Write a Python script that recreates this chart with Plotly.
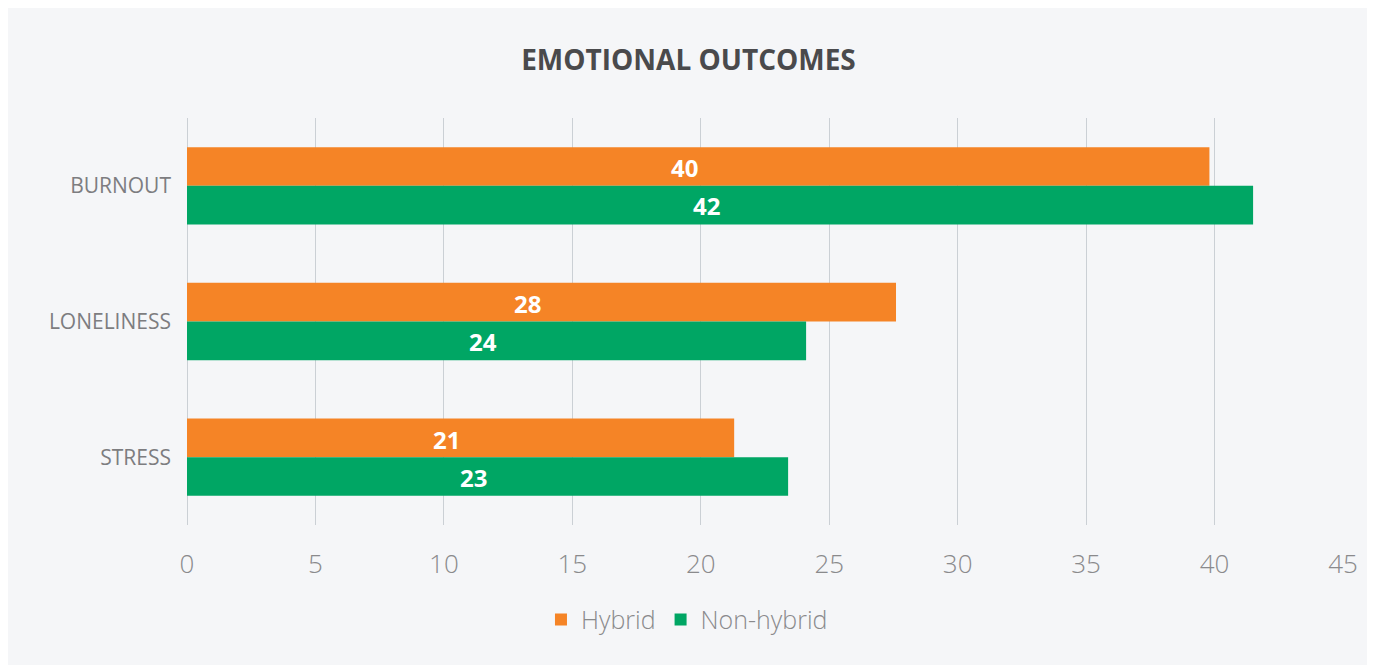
import plotly.graph_objects as go

categories = ["BURNOUT", "LONELINESS", "STRESS"]
hybrid = [39.8, 27.6, 21.3]
non_hybrid = [41.5, 24.1, 23.4]
x_ticks = [0, 5, 10, 15, 20, 25, 30, 35, 40, 45]

ORANGE = "#F58426"
GREEN = "#00A664"
BG = "#F5F6F8"
FONT = "'Open Sans', Lato, sans-serif"

fig = go.Figure()
for name, vals, col in [("Hybrid", hybrid, ORANGE), ("Non-hybrid", non_hybrid, GREEN)]:
    fig.add_trace(go.Bar(
        y=categories, x=vals, name=name, orientation="h",
        marker=dict(color=col, line=dict(width=0)),
    ))

# value labels, slightly left of bar centre as in the reference
for ti, vals in enumerate([hybrid, non_hybrid]):
    for ci, (cat, v) in enumerate(zip(categories, vals)):
        fig.add_annotation(
            x=v / 2, y=ci + (-0.14 if ti == 0 else 0.14), xref="x", yref="y",
            text=f"<b>{v:.0f}</b>", showarrow=False, xshift=-14, yshift=-1,
            font=dict(family=FONT, size=24, color="white"),
        )

fig.update_layout(
    width=1361, height=657,
    margin=dict(l=179, r=26, t=110, b=140),
    paper_bgcolor=BG, plot_bgcolor=BG,
    barmode="group", bargap=0.43, bargroupgap=0,
    title=dict(text="<b>EMOTIONAL OUTCOMES</b>", x=0.5, xanchor="center",
               y=1 - 52 / 657, yanchor="middle", yref="container",
               font=dict(family=FONT, size=28, color="#4A4A4C")),
    legend=dict(orientation="h", x=0.4325, xanchor="center", y=-0.233, yanchor="middle",
                font=dict(family=FONT, size=25, color="#8A8A8C", weight=300),
                bgcolor="rgba(0,0,0,0)", traceorder="normal"),
)
fig.update_xaxes(range=[0, 45], tickvals=x_ticks, showgrid=True, gridcolor="#CBD0D5",
                 gridwidth=1, zeroline=True, zerolinecolor="#CBD0D5", zerolinewidth=1,
                 showline=False, ticks="", ticklabelstandoff=21,
                 tickfont=dict(family=FONT, size=26, color="#8A8A8C", weight=300))
fig.update_yaxes(autorange="reversed", range=[2.5, -0.5], showgrid=False, ticks="",
                 ticklabelstandoff=15,
                 tickfont=dict(family=FONT, size=21, color="#7D7D80"))

fig.write_html("out.html")
